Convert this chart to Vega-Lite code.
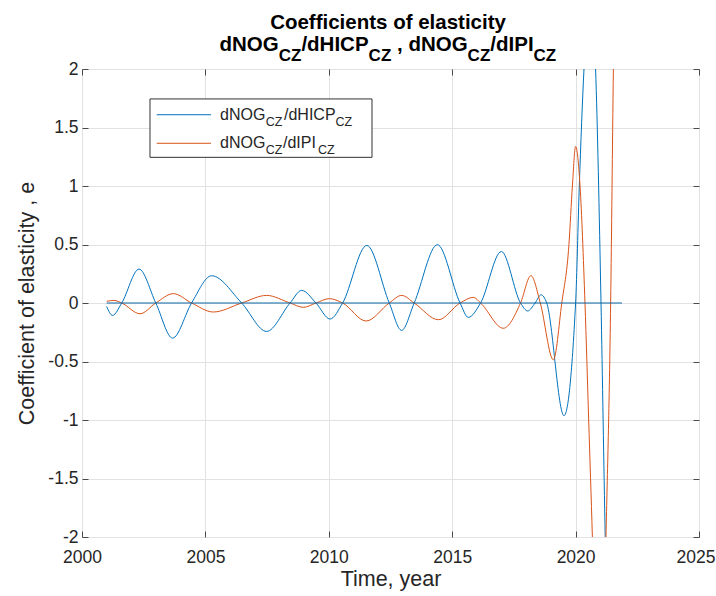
{
  "$schema": "https://vega.github.io/schema/vega-lite/v6.json",
  "width": 617,
  "height": 468,
  "autosize": {"type": "none"},
  "padding": {"left": 82, "top": 69, "right": 17, "bottom": 59},
  "background": "white",
  "config": {
    "font": "Liberation Sans",
    "view": {"stroke": "#6e6e6e", "strokeWidth": 1},
    "axis": {
      "labelFont": "Liberation Sans",
      "titleFont": "Liberation Sans",
      "labelColor": "#262626",
      "titleColor": "#262626",
      "labelFontSize": 17.5,
      "titleFontSize": 21.5,
      "titleFontWeight": "normal",
      "tickColor": "#4a4a4a",
      "gridColor": "#e2e2e2",
      "gridWidth": 1,
      "labelFlush": false,
      "domain": false
    }
  },
  "datasets": {
    "curves": [
      {"year": 2001.00, "value": -0.03, "series": "dNOG/dHICP"},
      {"year": 2001.24, "value": -0.106, "series": "dNOG/dHICP"},
      {"year": 2001.61, "value": 0, "series": "dNOG/dHICP"},
      {"year": 2002.31, "value": 0.29, "series": "dNOG/dHICP"},
      {"year": 2002.99, "value": 0, "series": "dNOG/dHICP"},
      {"year": 2003.67, "value": -0.30, "series": "dNOG/dHICP"},
      {"year": 2004.44, "value": 0, "series": "dNOG/dHICP"},
      {"year": 2005.25, "value": 0.233, "series": "dNOG/dHICP"},
      {"year": 2006.47, "value": 0, "series": "dNOG/dHICP"},
      {"year": 2007.48, "value": -0.243, "series": "dNOG/dHICP"},
      {"year": 2008.43, "value": 0, "series": "dNOG/dHICP"},
      {"year": 2008.90, "value": 0.108, "series": "dNOG/dHICP"},
      {"year": 2009.48, "value": 0, "series": "dNOG/dHICP"},
      {"year": 2010.05, "value": -0.137, "series": "dNOG/dHICP"},
      {"year": 2010.56, "value": 0, "series": "dNOG/dHICP"},
      {"year": 2011.54, "value": 0.492, "series": "dNOG/dHICP"},
      {"year": 2012.45, "value": 0, "series": "dNOG/dHICP"},
      {"year": 2012.95, "value": -0.234, "series": "dNOG/dHICP"},
      {"year": 2013.46, "value": 0, "series": "dNOG/dHICP"},
      {"year": 2014.40, "value": 0.498, "series": "dNOG/dHICP"},
      {"year": 2015.32, "value": 0, "series": "dNOG/dHICP"},
      {"year": 2015.65, "value": -0.123, "series": "dNOG/dHICP"},
      {"year": 2016.15, "value": 0, "series": "dNOG/dHICP"},
      {"year": 2016.99, "value": 0.44, "series": "dNOG/dHICP"},
      {"year": 2017.77, "value": 0, "series": "dNOG/dHICP"},
      {"year": 2018.06, "value": -0.068, "series": "dNOG/dHICP"},
      {"year": 2018.36, "value": 0, "series": "dNOG/dHICP"},
      {"year": 2018.60, "value": 0.07, "series": "dNOG/dHICP"},
      {"year": 2018.83, "value": 0, "series": "dNOG/dHICP"},
      {"year": 2019.53, "value": -0.963, "series": "dNOG/dHICP"},
      {"year": 2020.00, "value": 0, "series": "dNOG/dHICP"},
      {"year": 2020.15, "value": 1.0, "series": "dNOG/dHICP"},
      {"year": 2020.34, "value": 2.0, "series": "dNOG/dHICP"},
      {"year": 2020.58, "value": 2.7, "series": "dNOG/dHICP"},
      {"year": 2020.81, "value": 2.0, "series": "dNOG/dHICP"},
      {"year": 2021.03, "value": 0, "series": "dNOG/dHICP"},
      {"year": 2021.20, "value": -2.0, "series": "dNOG/dHICP"},
      {"year": 2021.50, "value": -4.5, "series": "dNOG/dHICP"},
      {"year": 2021.88, "value": -3.5, "series": "dNOG/dHICP"},
      {"year": 2001.00, "value": 0.015, "series": "dNOG/dIPI"},
      {"year": 2001.30, "value": 0.022, "series": "dNOG/dIPI"},
      {"year": 2001.61, "value": 0, "series": "dNOG/dIPI"},
      {"year": 2002.35, "value": -0.092, "series": "dNOG/dIPI"},
      {"year": 2002.99, "value": 0, "series": "dNOG/dIPI"},
      {"year": 2003.70, "value": 0.08, "series": "dNOG/dIPI"},
      {"year": 2004.44, "value": 0, "series": "dNOG/dIPI"},
      {"year": 2005.32, "value": -0.077, "series": "dNOG/dIPI"},
      {"year": 2006.47, "value": 0, "series": "dNOG/dIPI"},
      {"year": 2007.48, "value": 0.065, "series": "dNOG/dIPI"},
      {"year": 2008.43, "value": 0, "series": "dNOG/dIPI"},
      {"year": 2008.97, "value": -0.037, "series": "dNOG/dIPI"},
      {"year": 2009.48, "value": 0, "series": "dNOG/dIPI"},
      {"year": 2010.02, "value": 0.037, "series": "dNOG/dIPI"},
      {"year": 2010.56, "value": 0, "series": "dNOG/dIPI"},
      {"year": 2011.51, "value": -0.154, "series": "dNOG/dIPI"},
      {"year": 2012.45, "value": 0, "series": "dNOG/dIPI"},
      {"year": 2012.95, "value": 0.065, "series": "dNOG/dIPI"},
      {"year": 2013.46, "value": 0, "series": "dNOG/dIPI"},
      {"year": 2014.44, "value": -0.143, "series": "dNOG/dIPI"},
      {"year": 2015.32, "value": 0, "series": "dNOG/dIPI"},
      {"year": 2015.86, "value": 0.048, "series": "dNOG/dIPI"},
      {"year": 2016.15, "value": 0, "series": "dNOG/dIPI"},
      {"year": 2017.07, "value": -0.216, "series": "dNOG/dIPI"},
      {"year": 2017.77, "value": 0, "series": "dNOG/dIPI"},
      {"year": 2018.19, "value": 0.234, "series": "dNOG/dIPI"},
      {"year": 2018.57, "value": 0, "series": "dNOG/dIPI"},
      {"year": 2019.10, "value": -0.485, "series": "dNOG/dIPI"},
      {"year": 2019.44, "value": 0, "series": "dNOG/dIPI"},
      {"year": 2019.73, "value": 0.5, "series": "dNOG/dIPI"},
      {"year": 2019.87, "value": 1.0, "series": "dNOG/dIPI"},
      {"year": 2020.00, "value": 1.338, "series": "dNOG/dIPI"},
      {"year": 2020.18, "value": 1.0, "series": "dNOG/dIPI"},
      {"year": 2020.38, "value": 0, "series": "dNOG/dIPI"},
      {"year": 2020.53, "value": -1.0, "series": "dNOG/dIPI"},
      {"year": 2020.68, "value": -2.0, "series": "dNOG/dIPI"},
      {"year": 2020.95, "value": -4.2, "series": "dNOG/dIPI"},
      {"year": 2021.23, "value": -2.0, "series": "dNOG/dIPI"},
      {"year": 2021.42, "value": 0, "series": "dNOG/dIPI"},
      {"year": 2021.53, "value": 2.0, "series": "dNOG/dIPI"},
      {"year": 2021.88, "value": 8.0, "series": "dNOG/dIPI"}
    ],
    "zero": [
      {"year": 2001.0, "value": 0},
      {"year": 2021.88, "value": 0}
    ],
    "title1": [
      {"text": "Coefficients of elasticity", "x": 2012.4, "y": 2.342}
    ],
    "title2main": [
      {"text": "dNOG", "x": 2005.571, "y": 2.156},
      {"text": "/dHICP", "x": 2008.890, "y": 2.156},
      {"text": ",", "x": 2012.763, "y": 2.156},
      {"text": "dNOG", "x": 2013.225, "y": 2.156},
      {"text": "/dIPI", "x": 2016.544, "y": 2.156}
    ],
    "title2sub": [
      {"text": "CZ", "x": 2007.970, "y": 2.066},
      {"text": "CZ", "x": 2011.613, "y": 2.066},
      {"text": "CZ", "x": 2015.624, "y": 2.066},
      {"text": "CZ", "x": 2018.298, "y": 2.066}
    ],
    "legendbox": [
      {"x": 2002.755, "x2": 2011.75, "y": 1.744, "y2": 1.245}
    ],
    "legendlines": [
      {"series": "dNOG/dHICP", "x": 2003.027, "x2": 2005.227, "y": 1.609},
      {"series": "dNOG/dIPI", "x": 2003.027, "x2": 2005.227, "y": 1.365}
    ],
    "legendmain": [
      {"text": "dNOG", "x": 2005.592, "y": 1.564},
      {"text": "/dHICP", "x": 2008.185, "y": 1.564},
      {"text": "dNOG", "x": 2005.592, "y": 1.322},
      {"text": "/dIPI", "x": 2008.144, "y": 1.322}
    ],
    "legendsub": [
      {"text": "CZ", "x": 2007.443, "y": 1.515},
      {"text": "CZ", "x": 2010.275, "y": 1.515},
      {"text": "CZ", "x": 2007.443, "y": 1.274},
      {"text": "CZ", "x": 2009.562, "y": 1.274}
    ]
  },
  "resolve": {"axis": {"x": "independent", "y": "independent"}},
  "layer": [
    {
      "data": {"name": "curves"},
      "mark": {"type": "line", "clip": true, "strokeWidth": 1, "interpolate": "monotone"},
      "encoding": {
        "x": {
          "field": "year", "type": "quantitative",
          "scale": {"domain": [2000, 2025], "nice": false, "zero": false},
          "axis": {
            "orient": "bottom",
            "values": [2000, 2005, 2010, 2015, 2020, 2025],
            "format": "d",
            "grid": true,
            "tickSize": -6,
            "labelPadding": 17,
            "labelAlign": {"condition": {"test": "datum.value == 2025", "value": "right"}, "value": "center"},
            "labelOffset": {"condition": {"test": "datum.value == 2025", "value": 16}, "value": 0},
            "title": "Time, year",
            "titlePadding": 3
          }
        },
        "y": {
          "field": "value", "type": "quantitative",
          "scale": {"domain": [-2, 2], "nice": false, "zero": false},
          "axis": {
            "orient": "left",
            "values": [-2, -1.5, -1, -0.5, 0, 0.5, 1, 1.5, 2],
            "labelExpr": "'' + datum.value",
            "grid": true,
            "tickSize": -6,
            "labelPadding": 10,
            "title": "Coefficient of elasticity , e",
            "titlePadding": 9
          }
        },
        "color": {
          "field": "series", "type": "nominal",
          "scale": {"domain": ["dNOG/dHICP", "dNOG/dIPI"], "range": ["#0072BD", "#D95319"]},
          "legend": null
        },
        "detail": {"field": "series"}
      }
    },
    {
      "data": {"name": "zero"},
      "mark": {"type": "line", "clip": true, "strokeWidth": 1.1, "color": "#0a68a8"},
      "encoding": {
        "x": {
          "field": "year", "type": "quantitative",
          "axis": {
            "orient": "top",
            "values": [2000, 2005, 2010, 2015, 2020, 2025],
            "labels": false, "grid": false, "tickSize": -6, "title": null
          }
        },
        "y": {
          "field": "value", "type": "quantitative",
          "axis": {
            "orient": "right",
            "values": [-2, -1.5, -1, -0.5, 0, 0.5, 1, 1.5, 2],
            "labels": false, "grid": false, "tickSize": -6, "title": null
          }
        }
      }
    },
    {
      "data": {"name": "legendbox"},
      "mark": {"type": "rect", "fill": "white", "stroke": "#333333", "strokeWidth": 1},
      "encoding": {
        "x": {"field": "x", "type": "quantitative", "axis": null},
        "x2": {"field": "x2"},
        "y": {"field": "y", "type": "quantitative", "axis": null},
        "y2": {"field": "y2"}
      }
    },
    {
      "data": {"name": "legendlines"},
      "mark": {"type": "rule", "strokeWidth": 1},
      "encoding": {
        "x": {"field": "x", "type": "quantitative", "axis": null},
        "x2": {"field": "x2"},
        "y": {"field": "y", "type": "quantitative", "axis": null},
        "color": {"field": "series", "type": "nominal", "legend": null}
      }
    },
    {
      "data": {"name": "legendmain"},
      "mark": {"type": "text", "align": "left", "baseline": "alphabetic", "fontSize": 16, "font": "Liberation Sans", "color": "#262626"},
      "encoding": {
        "x": {"field": "x", "type": "quantitative", "axis": null},
        "y": {"field": "y", "type": "quantitative", "axis": null},
        "text": {"field": "text"}
      }
    },
    {
      "data": {"name": "legendsub"},
      "mark": {"type": "text", "align": "left", "baseline": "alphabetic", "fontSize": 12.5, "font": "Liberation Sans", "color": "#262626"},
      "encoding": {
        "x": {"field": "x", "type": "quantitative", "axis": null},
        "y": {"field": "y", "type": "quantitative", "axis": null},
        "text": {"field": "text"}
      }
    },
    {
      "data": {"name": "title1"},
      "mark": {"type": "text", "align": "center", "baseline": "alphabetic", "fontSize": 20.5, "fontWeight": "bold", "font": "Liberation Sans", "color": "#000000"},
      "encoding": {
        "x": {"field": "x", "type": "quantitative", "axis": null},
        "y": {"field": "y", "type": "quantitative", "axis": null},
        "text": {"field": "text"}
      }
    },
    {
      "data": {"name": "title2main"},
      "mark": {"type": "text", "align": "left", "baseline": "alphabetic", "fontSize": 20.5, "fontWeight": "bold", "font": "Liberation Sans", "color": "#000000"},
      "encoding": {
        "x": {"field": "x", "type": "quantitative", "axis": null},
        "y": {"field": "y", "type": "quantitative", "axis": null},
        "text": {"field": "text"}
      }
    },
    {
      "data": {"name": "title2sub"},
      "mark": {"type": "text", "align": "left", "baseline": "alphabetic", "fontSize": 17, "fontWeight": "bold", "font": "Liberation Sans", "color": "#000000"},
      "encoding": {
        "x": {"field": "x", "type": "quantitative", "axis": null},
        "y": {"field": "y", "type": "quantitative", "axis": null},
        "text": {"field": "text"}
      }
    }
  ]
}
